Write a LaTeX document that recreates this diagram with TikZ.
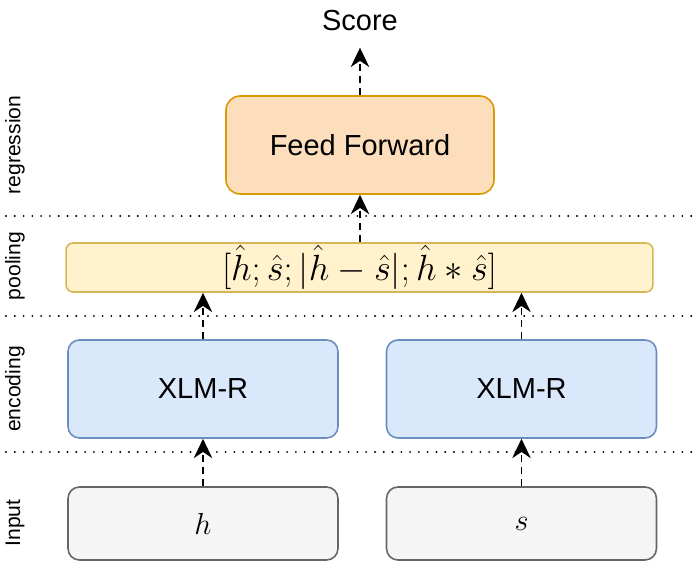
\documentclass[tikz,border=0pt]{standalone}
\usepackage{fontspec}
\setmainfont{Liberation Sans}
\usetikzlibrary{arrows.meta}
\definecolor{ffFill}{HTML}{FCDDBC}
\definecolor{ffLine}{HTML}{D79B00}
\definecolor{poolFill}{HTML}{FFF2CC}
\definecolor{poolLine}{HTML}{D6B656}
\definecolor{encFill}{HTML}{DAE8FC}
\definecolor{encLine}{HTML}{6C8EBF}
\definecolor{inFill}{HTML}{F5F5F5}
\definecolor{inLine}{HTML}{666666}
\tikzstyle{blk}=[draw,line width=.9pt,rounded corners=6.5pt,inner sep=0pt,font=\fontsize{16.5}{18}\selectfont]
\tikzstyle{enc}=[blk,fill=encFill,draw=encLine,minimum width=5.4cm,minimum height=1.96cm]
\tikzstyle{inp}=[blk,fill=inFill,draw=inLine,minimum width=5.4cm,minimum height=1.46cm,font=\fontsize{17}{20}\selectfont]
\tikzstyle{lyr}=[rotate=90,font=\fontsize{12}{14}\selectfont]
\tikzstyle{flow}=[-{Stealth[length=11pt,width=10.5pt,inset=3.5pt]},line width=1.1pt,dash pattern=on 4pt off 3pt]
\tikzstyle{sep}=[line width=1.2pt,line cap=round,dash pattern=on 0pt off 5pt]

\begin{document}
\begin{tikzpicture}[x=0.02cm,y=-0.02cm]
\useasboundingbox (0,0) rectangle (694,561);
% layer names
\node[lyr] (lreg) at (15,145) {regression};
\node[lyr] (lpool) at (15,266) {pooling};
\node[lyr] (lenc) at (15,389) {encoding};
\node[lyr] (lin) at (15,523) {Input};
% layer borders
\draw[sep] (6,216) -- (694,216);
\draw[sep] (6,316) -- (694,316);
\draw[sep] (6,452) -- (694,452);
% blocks
\node[anchor=south,inner sep=0pt,font=\fontsize{16.5}{18}\selectfont] (score) at (360,31) {Score};
\node[blk,fill=ffFill,draw=ffLine,minimum width=5.36cm,minimum height=1.96cm,rounded corners=8pt] (ff) at (360,145) {Feed Forward};
\node[blk,fill=poolFill,draw=poolLine,minimum width=11.74cm,minimum height=.98cm,rounded corners=4pt,font=\fontsize{20.5}{22}\selectfont] (pool) at (359.5,267.5) {$[\hat{h};\hat{s};|\hat{h}-\hat{s}|;\hat{h}*\hat{s}]$};
\node[enc] (encH) at (203,389) {XLM-R};
\node[enc] (encS) at (521.5,389) {XLM-R};
\node[inp] (inH) at (203,523.5) {$h$};
\node[inp] (inS) at (521.5,523.5) {$s$};
% arrows
\draw[flow] (inH) -- (encH);
\draw[flow] (inS) -- (encS);
\draw[flow] (encH.north) -- (encH.north |- pool.south);
\draw[flow] (encS.north) -- (encS.north |- pool.south);
\draw[flow] (ff.south |- pool.north) -- (ff.south);
\draw[flow,shorten >=9.5pt] (ff) -- (score);
\end{tikzpicture}
\end{document}
